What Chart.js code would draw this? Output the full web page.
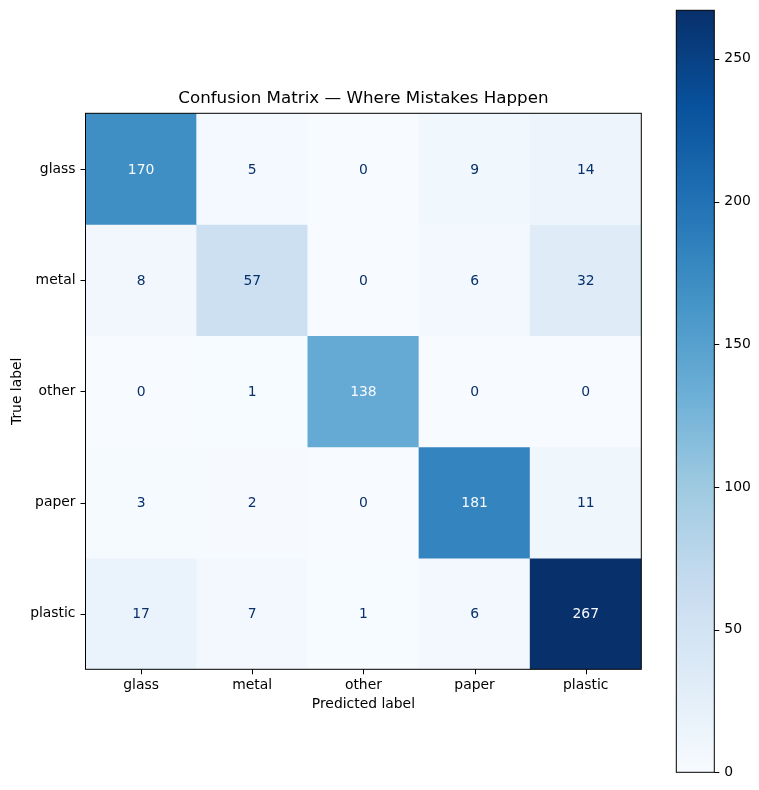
<!DOCTYPE html>
<html lang="en">
<head>
  <meta charset="UTF-8" />
  <title>Confusion Matrix</title>
  <script src="https://cdn.jsdelivr.net/npm/chart.js"></script>
  <style>
    body { margin: 0; background: #fff; }
    #wrap { position: relative; width: 759px; height: 790px; }
    #matrix { position: absolute; left: 0; top: 0; }
    #colorbar { position: absolute; left: 640px; top: 0; }
  </style>
</head>
<body>
  <div id="wrap">
    <canvas id="matrix" width="660" height="790"></canvas>
    <canvas id="colorbar" width="119" height="790"></canvas>
  </div>
  <script>
    // data
    const classes = ['glass', 'metal', 'other', 'paper', 'plastic'];
    const rowGlass = [170, 5, 0, 9, 14];
    const rowMetal = [8, 57, 0, 6, 32];
    const rowOther = [0, 1, 138, 0, 0];
    const rowPaper = [3, 2, 0, 181, 11];
    const rowPlastic = [17, 7, 1, 6, 267];
    const counts = [rowGlass, rowMetal, rowOther, rowPaper, rowPlastic];
    const colorbarTicks = [0, 50, 100, 150, 200, 250];

    const FONT = "'DejaVu Sans', sans-serif";
    // matplotlib "Blues"
    const blues = ['#f7fbff', '#deebf7', '#c6dbef', '#9ecae1', '#6baed6', '#4292c6', '#2171b5', '#08519c', '#08306b'];

    const all = counts.flat();
    const vmin = Math.min(...all);
    const vmax = Math.max(...all);
    const thresh = (vmin + vmax) / 2;

    function hex(c) {
      return [1, 3, 5].map(i => parseInt(c.slice(i, i + 2), 16));
    }
    function blue(v) {
      let t = (v - vmin) / (vmax - vmin);
      t = Math.max(0, Math.min(1, t)) * (blues.length - 1);
      const i = Math.min(Math.floor(t), blues.length - 2);
      const f = t - i;
      const a = hex(blues[i]), b = hex(blues[i + 1]);
      const c = a.map((x, k) => Math.round(x + (b[k] - x) * f));
      return `rgb(${c[0]},${c[1]},${c[2]})`;
    }

    // one dataset per true label, floating bars span the row
    const datasets = counts.map((row, r) => ({
      label: classes[r],
      data: row.map(() => [r - 0.5, r + 0.5]),
      values: row,
      backgroundColor: row.map(v => blue(v)),
      borderWidth: 0,
      barPercentage: 1,
      categoryPercentage: 1,
      grouped: false
    }));

    // tick length is kept for label spacing, the marks themselves are stroked in the plugin
    const tickGrid = { display: true, drawOnChartArea: false, drawTicks: true, tickLength: 5, color: 'rgba(0,0,0,0)' };

    const matrixPlugin = {
      id: 'matrixText',
      afterDraw(chart) {
        const c = chart.ctx;
        const a = chart.chartArea;
        const xs = chart.scales.x, ys = chart.scales.y;
        c.save();
        // cell values
        c.font = `13.9px ${FONT}`;
        c.textAlign = 'center';
        c.textBaseline = 'middle';
        chart.data.datasets.forEach((ds, r) => {
          chart.getDatasetMeta(r).data.forEach((bar, j) => {
            const v = ds.values[j];
            const p = bar.getCenterPoint();
            c.fillStyle = v < thresh ? blues[8] : blues[0];
            c.fillText(String(v), p.x, p.y + 1);
          });
        });
        // frame and tick marks
        c.strokeStyle = '#000';
        c.lineWidth = 1;
        c.strokeRect(a.left, a.top, a.right - a.left, a.bottom - a.top);
        c.beginPath();
        xs.ticks.forEach((t, i) => {
          const x = Math.round(xs.getPixelForTick(i)) + 0.5;
          c.moveTo(x, a.bottom); c.lineTo(x, a.bottom + 5);
        });
        ys.ticks.forEach((t, i) => {
          const y = Math.round(ys.getPixelForTick(i)) + 0.5;
          c.moveTo(a.left - 5, y); c.lineTo(a.left, y);
        });
        c.stroke();
        // titles
        c.fillStyle = '#000';
        c.font = `16.7px ${FONT}`;
        c.fillText('Confusion Matrix \u2014 Where Mistakes Happen', (a.left + a.right) / 2, 99);
        c.font = `13.9px ${FONT}`;
        c.fillText('Predicted label', (a.left + a.right) / 2, 704);
        c.translate(17, (a.top + a.bottom) / 2);
        c.rotate(-Math.PI / 2);
        c.fillText('True label', 0, 0);
        c.restore();
      }
    };

    new Chart(document.getElementById('matrix'), {
      type: 'bar',
      data: { labels: classes, datasets: datasets },
      options: {
        responsive: false,
        animation: false,
        events: [],
        layout: { padding: { top: 113.3, right: 18.7, bottom: 0, left: 0 } },
        plugins: { legend: { display: false }, tooltip: { enabled: false }, title: { display: false } },
        scales: {
          x: {
            type: 'category',
            offset: true,
            afterFit(s) { s.height = 120.7; },
            grid: { ...tickGrid, offset: false },
            border: { display: false },
            ticks: { color: '#000', padding: 3, font: { family: FONT, size: 13.9 }, maxRotation: 0 }
          },
          y: {
            type: 'linear',
            min: -0.5,
            max: 4.5,
            reverse: true,
            afterFit(s) { s.width = 85.5; },
            afterBuildTicks(s) { s.ticks = classes.map((_, i) => ({ value: i })); },
            grid: tickGrid,
            border: { display: false },
            ticks: { color: '#000', padding: 5, font: { family: FONT, size: 13.9 }, callback: v => classes[v] }
          }
        }
      },
      plugins: [matrixPlugin]
    });

    // colorbar: a single floating bar from vmin to vmax filled with the colormap
    function barGradient(ctx) {
      const chart = ctx.chart;
      if (!chart.chartArea) return blues[4];
      const y = chart.scales.y;
      const g = chart.ctx.createLinearGradient(0, y.getPixelForValue(vmin), 0, y.getPixelForValue(vmax));
      blues.forEach((col, i) => g.addColorStop(i / (blues.length - 1), col));
      return g;
    }

    const framePlugin = {
      id: 'cbFrame',
      afterDraw(chart) {
        const a = chart.chartArea;
        const ys = chart.scales.y;
        const c = chart.ctx;
        c.save();
        c.strokeStyle = '#000';
        c.lineWidth = 1;
        c.strokeRect(a.left, a.top, a.right - a.left, a.bottom - a.top);
        c.beginPath();
        ys.ticks.forEach((t, i) => {
          const y = Math.round(ys.getPixelForTick(i)) + 0.5;
          c.moveTo(a.right, y); c.lineTo(a.right + 5, y);
        });
        c.stroke();
        c.restore();
      }
    };

    new Chart(document.getElementById('colorbar'), {
      type: 'bar',
      data: {
        labels: [''],
        datasets: [{ data: [[vmin, vmax]], backgroundColor: barGradient, borderWidth: 0, barPercentage: 1, categoryPercentage: 1 }]
      },
      options: {
        responsive: false,
        animation: false,
        events: [],
        layout: { padding: { top: 10.3, right: 0, bottom: 17.7, left: 36.3 } },
        plugins: { legend: { display: false }, tooltip: { enabled: false } },
        scales: {
          x: { display: false },
          y: {
            position: 'right',
            min: vmin,
            max: vmax,
            afterFit(s) { s.width = 44.7; s.paddingTop = 0; s.paddingBottom = 0; },
            afterBuildTicks(s) { s.ticks = colorbarTicks.map(v => ({ value: v })); },
            grid: tickGrid,
            border: { display: false },
            ticks: { color: '#000', padding: 5, font: { family: FONT, size: 13.9 } }
          }
        }
      },
      plugins: [framePlugin]
    });
  </script>
</body>
</html>
